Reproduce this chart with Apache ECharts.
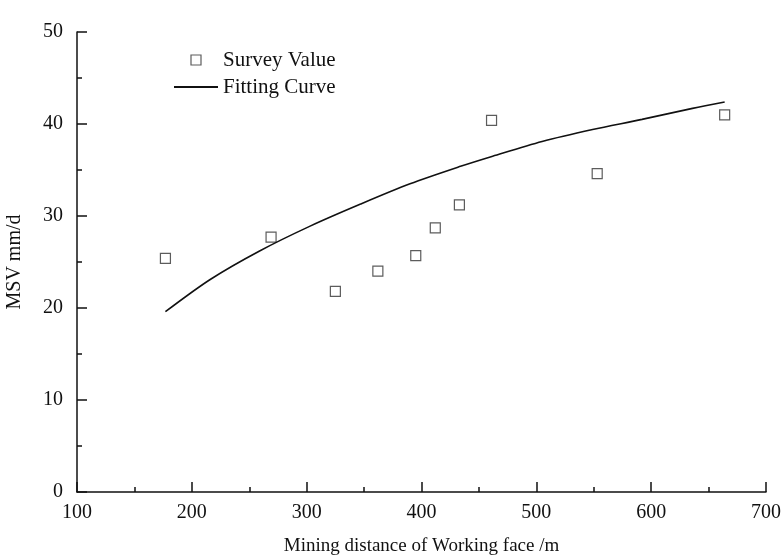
<!DOCTYPE html>
<html>
<head>
<meta charset="utf-8">
<script src="https://cdn.jsdelivr.net/npm/echarts@6/dist/echarts.min.js"></script>
<style>html,body{margin:0;padding:0;background:#fff;}#chart{width:782px;height:558px;}</style>
</head>
<body>
<div id="chart"></div>
<script>
// Survey values (mining distance m, MSV mm/d)
const surveyX = [177, 269, 325, 362, 395, 412, 433, 461, 553, 664];
const surveyY = [25.4, 27.7, 21.8, 24.0, 25.7, 28.7, 31.2, 40.4, 34.6, 41.0];
// Fitting curve points
const fitX = [177, 216, 259, 303, 347, 390, 434, 462, 505, 549, 592, 636, 664];
const fitY = [19.6, 23.1, 26.2, 28.9, 31.3, 33.5, 35.4, 36.5, 38.1, 39.4, 40.5, 41.7, 42.4];
const xTicks = [100, 200, 300, 400, 500, 600, 700];
const yTicks = [0, 10, 20, 30, 40, 50];

const FONT = '"Liberation Serif", "Times New Roman", serif';
const chart = echarts.init(document.getElementById('chart'));
const axisLine = { lineStyle: { color: '#111', width: 1.5 } };
chart.setOption({
  animation: false,
  backgroundColor: '#fff',
  grid: { left: 77, right: 16, top: 32, bottom: 66, outerBoundsMode: 'none', containLabel: false },
  legend: {
    orient: 'vertical', left: 168, top: 44,
    itemWidth: 44, itemHeight: 10, itemGap: 5,
    symbolKeepAspect: true,
    textStyle: { fontFamily: FONT, fontSize: 21, color: '#111', lineHeight: 22 },
    data: [
      { name: 'Survey Value', icon: 'path://M0,0L10,0L10,10L0,10Z',
        itemStyle: { color: '#fff', borderColor: '#333', borderWidth: 1.2 } },
      { name: 'Fitting Curve', itemStyle: { color: 'transparent', borderWidth: 0, opacity: 0 } }
    ]
  },
  xAxis: {
    type: 'value', min: xTicks[0], max: xTicks[xTicks.length - 1], interval: 100,
    name: 'Mining distance of Working face /m', nameLocation: 'middle', nameGap: 45,
    nameTextStyle: { fontFamily: FONT, fontSize: 19, color: '#111' },
    axisLine: axisLine,
    axisTick: { inside: true, length: 10, lineStyle: { color: '#111', width: 1.5 } },
    minorTick: { show: true, splitNumber: 2, length: 5, lineStyle: { color: '#111', width: 1.5 } },
    splitLine: { show: false },
    axisLabel: { fontFamily: FONT, fontSize: 20, color: '#111', margin: 11 }
  },
  yAxis: {
    type: 'value', min: yTicks[0], max: yTicks[yTicks.length - 1], interval: 10,
    name: 'MSV mm/d', nameLocation: 'middle', nameGap: 52, nameRotate: 90,
    nameTextStyle: { fontFamily: FONT, fontSize: 20, color: '#111' },
    axisLine: axisLine,
    axisTick: { inside: true, length: 10, lineStyle: { color: '#111', width: 1.5 } },
    minorTick: { show: true, splitNumber: 2, length: 5, lineStyle: { color: '#111', width: 1.5 } },
    splitLine: { show: false },
    axisLabel: { fontFamily: FONT, fontSize: 20, color: '#111', margin: 14 }
  },
  series: [
    {
      name: 'Survey Value', type: 'scatter', symbol: 'rect', symbolSize: 10,
      itemStyle: { color: '#fff', borderColor: '#333', borderWidth: 1.2 },
      data: surveyX.map((x, i) => [x, surveyY[i]])
    },
    {
      name: 'Fitting Curve', type: 'line', smooth: 0.3, showSymbol: false,
      lineStyle: { color: '#111', width: 1.6 },
      itemStyle: { color: '#111' },
      data: fitX.map((x, i) => [x, fitY[i]])
    }
  ]
});
</script>
</body>
</html>
